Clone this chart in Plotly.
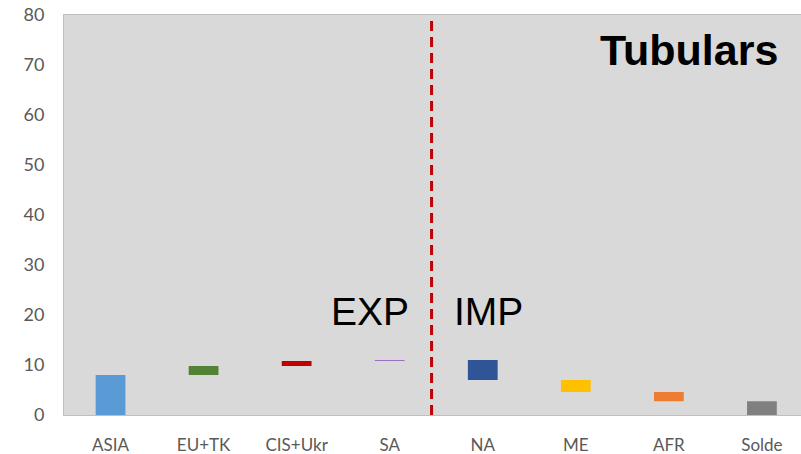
import plotly.graph_objects as go

# Regional trade flows for tubulars: exports stack up, imports step down, balance at the end
regions = ["ASIA", "EU+TK", "CIS+Ukr", "SA", "NA", "ME", "AFR", "Solde"]
flows = [8.0, 1.8, 1.0, 0.2, -4.0, -2.4, -1.85]   # running flows before the balance
colors = ["#5B9BD5", "#548235", "#C00000", "#9A6FCB",
          "#2F5597", "#FFC000", "#ED7D31", "#808080"]
y_ticks = [0, 10, 20, 30, 40, 50, 60, 70, 80]

# Floating bar extents from the running total
bases, heights = [], []
level = 0.0
for f in flows:
    start, end = level, level + f
    bases.append(min(start, end))
    heights.append(abs(f))
    level = end
bases.append(0.0)          # balance bar starts at zero
heights.append(level)

fig = go.Figure(go.Bar(
    x=regions, y=heights, base=bases,
    marker=dict(color=colors, line=dict(width=0)),
    width=0.32, hoverinfo="skip",
))

fig.add_shape(type="line", xref="x", yref="paper", x0=3.45, x1=3.45, y0=0, y1=1,
              line=dict(color="#C00000", width=3, dash="10px,6px"))

fig.add_annotation(text="Tubulars", xref="paper", yref="paper", x=0.9715, y=0.912,
                   xanchor="right", yanchor="middle", showarrow=False,
                   font=dict(family="Liberation Sans", size=43, color="black", weight="bold"))
fig.add_annotation(text="EXP", xref="paper", yref="paper", x=0.4710, y=0.26,
                   xanchor="right", yanchor="middle", showarrow=False,
                   font=dict(family="Liberation Sans", size=39, color="black"))
fig.add_annotation(text="IMP", xref="paper", yref="paper", x=0.5265, y=0.26,
                   xanchor="left", yanchor="middle", showarrow=False,
                   font=dict(family="Liberation Sans", size=39, color="black"))

fig.update_layout(
    width=801, height=454,
    margin=dict(l=64, r=0, t=15, b=39),
    paper_bgcolor="white", plot_bgcolor="#D9D9D9",
    showlegend=False,
    font=dict(family="Lato", size=16, color="#595959"),
)
fig.update_xaxes(range=[-0.5, 7.42], showgrid=False, showline=True, linecolor="#BFBFBF",
                 linewidth=1, mirror=True, ticks="", ticklabelstandoff=15,
                 tickfont=dict(family="Lato", size=17, color="#595959"))
fig.update_yaxes(range=[0, 80], tickvals=y_ticks, showgrid=False, zeroline=False,
                 showline=True, linecolor="#BFBFBF", linewidth=1, mirror=True,
                 ticks="", ticklabelstandoff=15,
                 tickfont=dict(family="Lato", size=18, color="#595959"))

fig.write_html("out.html")
